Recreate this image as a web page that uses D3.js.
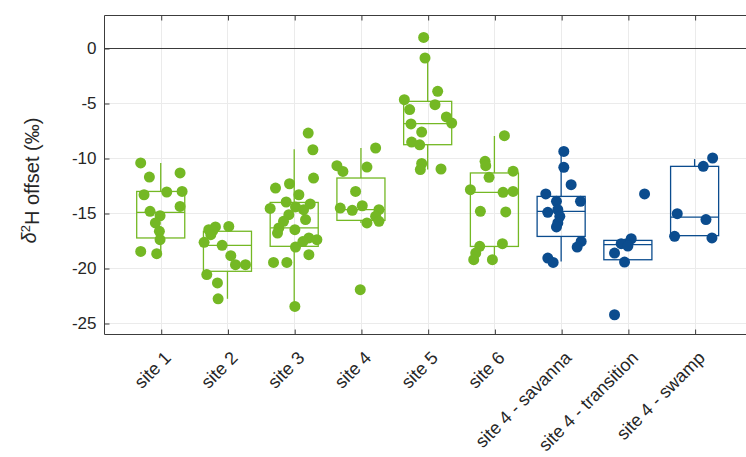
<!DOCTYPE html>
<html>
<head>
<meta charset="utf-8">
<script src="https://cdn.jsdelivr.net/npm/d3@7"></script>
<style>
  body { margin: 0; background: #ffffff; }
</style>
</head>
<body>
<div id="chart"></div>
<script>
// categories along x (1..9)
const categories = [
  "site 1", "site 2", "site 3", "site 4", "site 5", "site 6",
  "site 4 - savanna", "site 4 - transition", "site 4 - swamp",
];
// which group each category belongs to (main sites vs site 4 sub-sites)
const groups = ["site", "site", "site", "site", "site", "site", "sub", "sub", "sub"];

// d2H offset of every sample, per category
const values = [
  [-10.45, -11.73, -11.36, -13.34, -13.09, -13.04, -14.4, -14.85, -15.25, -15.9, -16.67, -17.43, -18.49, -18.7],
  [-16.22, -16.27, -16.52, -16.6, -16.97, -17.67, -17.94, -18.88, -19.7, -19.7, -20.6, -21.36, -22.8],
  [-7.73, -9.25, -11.82, -12.73, -12.34, -13.34, -14.58, -14.18, -14.45, -15.15, -14.7, -15.6, -15.76,
   -16.36, -16.82, -16.52, -17.27, -17.43, -18.09, -18.79, -19.49, -19.49, -23.49, -14.0, -17.6],
  [-9.09, -10.7, -11.22, -10.82, -13.04, -14.55, -14.76, -14.34, -14.7, -15.3, -15.9, -15.76, -21.97],
  [0.96, -0.91, -3.94, -4.7, -5.15, -5.6, -6.27, -6.82, -6.9, -7.64, -8.55, -8.8, -10.5, -11.05, -11.0],
  [-7.97, -10.3, -10.7, -11.2, -11.76, -12.88, -13.12, -13.04, -14.85, -14.9, -18.03, -17.79, -18.64, -19.24, -19.24],
  [-9.4, -10.85, -12.43, -13.27, -13.94, -13.94, -14.94, -14.7, -15.3, -15.9, -16.27, -17.58, -18.1, -19.1, -19.49],
  [-13.27, -17.34, -17.79, -17.79, -18.0, -18.64, -19.46, -24.25],
  [-10.0, -10.76, -15.06, -15.6, -17.12, -17.27],
];
// horizontal jitter of each sample (in category units)
const jitter = [
  [-0.30, -0.17, 0.29, -0.25, 0.09, 0.32, 0.29, -0.16, -0.01, -0.08, -0.02, -0.01, -0.30, -0.06],
  [0.02, -0.18, -0.28, -0.22, -0.25, -0.35, -0.08, 0.05, 0.12, 0.27, -0.31, -0.15, -0.14],
  [0.21, 0.28, 0.29, -0.28, -0.07, 0.07, -0.36, 0.24, 0.02, -0.08, 0.14, 0.17, -0.16,
   -0.23, -0.25, 0.01, 0.22, 0.34, 0.02, 0.22, -0.31, -0.11, 0.01, -0.12, 0.13],
  [0.22, -0.36, -0.27, 0.09, -0.08, -0.31, -0.13, 0.02, 0.27, 0.22, 0.09, 0.27, -0.01],
  [-0.06, -0.04, 0.15, -0.35, 0.11, -0.27, 0.28, 0.36, -0.25, -0.09, -0.24, -0.12, -0.09, -0.11, 0.2],
  [0.15, -0.14, -0.13, 0.28, -0.08, -0.36, 0.13, 0.28, -0.21, 0.17, -0.22, 0.12, -0.28, -0.31, -0.03],
  [0.04, 0.04, 0.15, -0.23, -0.07, 0.29, -0.2, -0.05, -0.02, -0.05, -0.07, 0.3, 0.24, -0.2, -0.12],
  [0.25, 0.05, -0.02, -0.1, 0.0, -0.2, -0.05, -0.2],
  [0.27, 0.13, -0.26, 0.17, -0.3, 0.26],
];

// box statistics per category
const q1 = [-17.27, -20.3, -18.03, -15.67, -8.79, -18.04, -17.13, -19.25, -17.06];
const median = [-14.95, -17.94, -16.36, -14.7, -6.88, -13.12, -14.85, -17.88, -15.37];
const q3 = [-13.04, -16.66, -14.04, -11.82, -4.85, -11.36, -13.49, -17.49, -10.76];
const whiskerLow = [-18.7, -22.8, -23.49, -15.9, -11.05, -19.24, -19.4, -19.25, -17.06];
const whiskerHigh = [-10.45, -16.22, -9.2, -9.09, -0.91, -8.0, -9.4, -17.49, -10.1];

const yTicks = [0, -5, -10, -15, -20, -25];

class BoxScatterChart {
  colorPalette = {
    site: "#74b824",
    sub: "#0b4c8e",
    grid: "#ebebeb",
    axis: "#3c3c3c",
    zero: "#3a3a3a",
    text: "#262626",
  };

  config = {
    width: 746,
    height: 457,
    plotLeft: 104,
    plotTop: 15,
    plotBottom: 334,
    plotRight: 746,
    xMin: 0.15, // category units at left edge
    xMax: 9.77,
    yMin: -26,
    yMax: 3,
    boxWidth: 0.72, // category units
    pointRadius: 5.5,
    tickLength: 5,
    font: "'Liberation Sans', Arial, Helvetica, sans-serif",
  };

  constructor(id) {
    this._id = id;
    this._svg = null;
    this._x = d3.scaleLinear();
    this._y = d3.scaleLinear();
  }

  SetupLayout() {
    this._svg = d3
      .select(`#${this._id}`)
      .append("svg")
      .attr("width", this.config.width)
      .attr("height", this.config.height)
      .style("font-family", this.config.font);
    this._svg
      .append("rect")
      .attr("width", this.config.width)
      .attr("height", this.config.height)
      .attr("fill", "#fff");
  }

  SetupScales() {
    this._x = d3
      .scaleLinear()
      .domain([this.config.xMin, this.config.xMax])
      .range([this.config.plotLeft, this.config.plotRight]);
    this._y = d3
      .scaleLinear()
      .domain([this.config.yMin, this.config.yMax])
      .range([this.config.plotBottom, this.config.plotTop]);
  }

  DrawGrid() {
    const c = this.config;
    const g = this._svg.append("g").attr("class", "grid");
    g.selectAll("line.vx")
      .data(categories)
      .enter()
      .append("line")
      .attr("x1", (d, i) => Math.round(this._x(i + 1)) + 0.5)
      .attr("x2", (d, i) => Math.round(this._x(i + 1)) + 0.5)
      .attr("y1", c.plotTop)
      .attr("y2", c.plotBottom)
      .attr("stroke", this.colorPalette.grid);
    g.selectAll("line.hy")
      .data(yTicks)
      .enter()
      .append("line")
      .attr("x1", c.plotLeft)
      .attr("x2", c.plotRight)
      .attr("y1", (d) => Math.round(this._y(d)) + 0.5)
      .attr("y2", (d) => Math.round(this._y(d)) + 0.5)
      .attr("stroke", this.colorPalette.grid);

    // reference line at 0
    this._svg
      .append("line")
      .attr("x1", c.plotLeft)
      .attr("x2", c.plotRight)
      .attr("y1", Math.round(this._y(0)) + 0.5)
      .attr("y2", Math.round(this._y(0)) + 0.5)
      .attr("stroke", this.colorPalette.zero)
      .attr("stroke-width", 1.2);
  }

  DrawBoxes() {
    const half = this.config.boxWidth / 2;
    const g = this._svg
      .append("g")
      .attr("class", "boxes")
      .attr("fill", "none")
      .attr("stroke-width", 1.3);
    categories.forEach((cat, i) => {
      const color = this.colorPalette[groups[i]];
      const cx = this._x(i + 1);
      const b = g.append("g").attr("stroke", color);
      // whiskers
      b.append("line")
        .attr("x1", cx).attr("x2", cx)
        .attr("y1", this._y(q3[i])).attr("y2", this._y(whiskerHigh[i]));
      b.append("line")
        .attr("x1", cx).attr("x2", cx)
        .attr("y1", this._y(q1[i])).attr("y2", this._y(whiskerLow[i]));
      // box
      b.append("rect")
        .attr("x", this._x(i + 1 - half))
        .attr("width", this._x(i + 1 + half) - this._x(i + 1 - half))
        .attr("y", this._y(q3[i]))
        .attr("height", this._y(q1[i]) - this._y(q3[i]));
      // median
      b.append("line")
        .attr("x1", this._x(i + 1 - half)).attr("x2", this._x(i + 1 + half))
        .attr("y1", this._y(median[i])).attr("y2", this._y(median[i]));
    });
  }

  DrawPoints() {
    const g = this._svg.append("g").attr("class", "points");
    categories.forEach((cat, i) => {
      g.selectAll(null)
        .data(values[i])
        .enter()
        .append("circle")
        .attr("cx", (d, j) => this._x(i + 1 + jitter[i][j]))
        .attr("cy", (d) => this._y(d))
        .attr("r", this.config.pointRadius)
        .attr("fill", this.colorPalette[groups[i]]);
    });
  }

  DrawAxes() {
    const c = this.config;
    const ticks = categories.map((d, i) => i + 1);

    const yAxis = d3
      .axisLeft(this._y)
      .tickValues(yTicks)
      .tickSize(-c.tickLength)
      .tickPadding(8)
      .tickFormat((d) => String(d));
    const gy = this._svg
      .append("g")
      .attr("transform", `translate(${c.plotLeft + 0.5},0.5)`)
      .call(yAxis);
    gy.select(".domain").remove();
    gy.selectAll("text").style("font-size", "17px");

    const xAxis = d3
      .axisBottom(this._x)
      .tickValues(ticks)
      .tickSize(-c.tickLength)
      .tickFormat((d) => categories[d - 1]);
    const gx = this._svg
      .append("g")
      .attr("transform", `translate(0.5,${c.plotBottom + 0.5})`)
      .call(xAxis);
    gx.select(".domain").remove();
    gx.selectAll("text")
      .attr("x", 0)
      .attr("y", 0)
      .attr("dy", "0.35em")
      .attr("text-anchor", "end")
      .attr("transform", "translate(6,20) rotate(-45)")
      .style("font-size", "18px");

    const xTop = d3.axisTop(this._x).tickValues(ticks).tickSize(-c.tickLength).tickFormat("");
    const gt = this._svg
      .append("g")
      .attr("transform", `translate(0.5,${c.plotTop + 0.5})`)
      .call(xTop);
    gt.select(".domain").remove();

    this._svg.selectAll(".tick line").attr("stroke", this.colorPalette.axis);
    this._svg
      .selectAll(".tick text")
      .style("font-family", c.font)
      .attr("fill", this.colorPalette.text);

    // frame (left, top, bottom)
    this._svg
      .append("path")
      .attr(
        "d",
        `M${c.plotRight},${c.plotTop + 0.5}H${c.plotLeft + 0.5}V${c.plotBottom + 0.5}H${c.plotRight}`,
      )
      .attr("fill", "none")
      .attr("stroke", this.colorPalette.axis)
      .attr("stroke-width", 1);

    // y label
    const label = this._svg
      .append("text")
      .attr("transform", `translate(36,${(c.plotTop + c.plotBottom) / 2 + 6}) rotate(-90)`)
      .attr("text-anchor", "middle")
      .attr("fill", this.colorPalette.text)
      .style("font-size", "20px");
    label.append("tspan").style("font-style", "italic").text("δ");
    label.append("tspan").attr("dy", "-0.45em").style("font-size", "13px").text("2");
    label.append("tspan").attr("dy", "0.45em").text("H offset (‰)");
  }

  DrawChart() {
    this.SetupLayout();
    this.SetupScales();
    this.DrawGrid();
    this.DrawBoxes();
    this.DrawPoints();
    this.DrawAxes();
  }
}

new BoxScatterChart("chart").DrawChart();
</script>
</body>
</html>
